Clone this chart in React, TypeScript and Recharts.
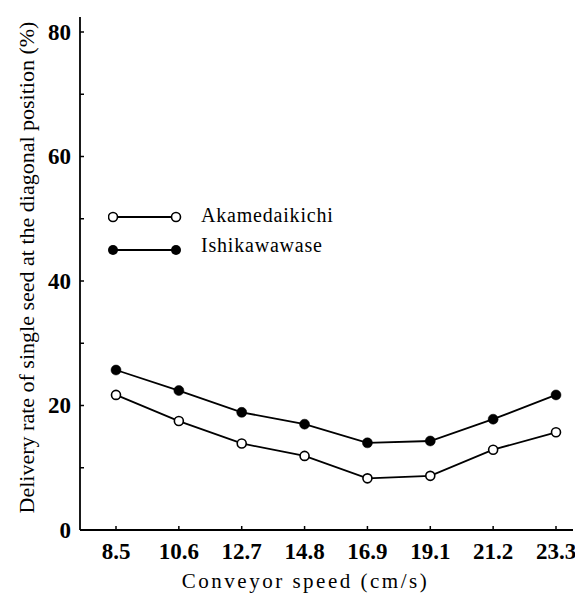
import React from 'react';
import { LineChart, Line, XAxis, YAxis } from 'recharts';

const speeds = ['8.5', '10.6', '12.7', '14.8', '16.9', '19.1', '21.2', '23.3'];
const akamedaikichi = [21.7, 17.5, 13.9, 11.9, 8.3, 8.7, 12.9, 15.7];
const ishikawawase = [25.7, 22.4, 18.9, 17.0, 14.0, 14.3, 17.8, 21.7];
const yTicks = [0, 10, 20, 30, 40, 50, 60, 70, 80];
const yLabels = [0, 20, 40, 60, 80];
const seriesNames = ['Akamedaikichi', 'Ishikawawase'];

const data = speeds.map((s, i) => ({ speed: s, a: akamedaikichi[i], b: ishikawawase[i] }));

const FONT = '"Liberation Serif", "DejaVu Serif", serif';

const YTick = (props: any) => {
  const { x, y, payload } = props;
  const show = yLabels.includes(payload.value);
  return (
    <g>
      <line x1={x} x2={x + 4} y1={y} y2={y} stroke="#000" strokeWidth={1.5} />
      {show && (
        <text x={x - 9} y={y} textAnchor="end" dominantBaseline="central" fontFamily={FONT} fontWeight="bold" fontSize={23} fill="#000">
          {payload.value}
        </text>
      )}
    </g>
  );
};

const XTick = (props: any) => {
  const { x, y, payload } = props;
  return (
    <g>
      <line x1={x} x2={x} y1={y} y2={y - 4} stroke="#000" strokeWidth={1.5} />
      <text x={x} y={y + 29} textAnchor="middle" fontFamily={FONT} fontWeight="bold" fontSize={23} fill="#000">
        {payload.value}
      </text>
    </g>
  );
};

const YLabel = (props: any) => {
  const { viewBox } = props;
  const cy = viewBox.y + viewBox.height / 2 - 6;
  return (
    <text x={26} y={cy} transform={`rotate(-90 26 ${cy})`} textAnchor="middle" dominantBaseline="central" fontFamily={FONT} fontSize={22} fill="#000">
      Delivery rate of single seed at the diagonal position (%)
    </text>
  );
};

const XLabel = (props: any) => {
  const { viewBox } = props;
  const cx = viewBox.x + viewBox.width / 2 - 21;
  return (
    <text x={cx} y={588} textAnchor="middle" fontFamily={FONT} fontSize={21} letterSpacing={2.5} fill="#000">
      Conveyor speed (cm/s)
    </text>
  );
};

const LegendBox = () => (
  <svg width={260} height={70} style={{ position: 'absolute', left: 108, top: 200 }}>
    <line x1={5} x2={68} y1={17} y2={17} stroke="#000" strokeWidth={1.8} />
    <circle cx={5} cy={17} r={4.5} fill="#fff" stroke="#000" strokeWidth={1.6} />
    <circle cx={68} cy={17} r={4.5} fill="#fff" stroke="#000" strokeWidth={1.6} />
    <text x={93} y={22} fontFamily={FONT} fontSize={20} letterSpacing={0.8} fill="#000">{seriesNames[0]}</text>
    <line x1={5} x2={68} y1={50} y2={50} stroke="#000" strokeWidth={1.8} />
    <circle cx={5} cy={50} r={5} fill="#000" />
    <circle cx={68} cy={50} r={5} fill="#000" />
    <text x={93} y={52} fontFamily={FONT} fontSize={20} letterSpacing={0.8} fill="#000">{seriesNames[1]}</text>
  </svg>
);

export default function App() {
  return (
    <div style={{ position: 'absolute', left: 0, top: 0, width: 575, height: 593, background: '#fff' }}>
      <LineChart width={575} height={593} data={data} margin={{ top: 17, right: 2, bottom: 33, left: 0 }}>
        <XAxis
          dataKey="speed"
          type="category"
          height={30}
          padding={{ left: 36, right: 17 }}
          axisLine={{ stroke: '#000', strokeWidth: 1.8 }}
          tickLine={false}
          tickSize={0}
          tickMargin={0}
          tick={<XTick />}
          interval={0}
          label={<XLabel />}
        />
        <YAxis
          width={80}
          type="number"
          domain={[0, 80]}
          ticks={yTicks}
          interval={0}
          padding={{ top: 15 }}
          axisLine={{ stroke: '#000', strokeWidth: 1.8 }}
          tickLine={false}
          tickSize={0}
          tickMargin={0}
          tick={<YTick />}
          label={<YLabel />}
        />
        <Line
          dataKey="a"
          name={seriesNames[0]}
          isAnimationActive={false}
          stroke="#000"
          strokeWidth={1.8}
          dot={{ r: 4.5, fill: '#fff', stroke: '#000', strokeWidth: 1.6 }}
          activeDot={false}
        />
        <Line
          dataKey="b"
          name={seriesNames[1]}
          isAnimationActive={false}
          stroke="#000"
          strokeWidth={1.8}
          dot={{ r: 5, fill: '#000', stroke: '#000', strokeWidth: 0.5 }}
          activeDot={false}
        />
      </LineChart>
      <LegendBox />
    </div>
  );
}
